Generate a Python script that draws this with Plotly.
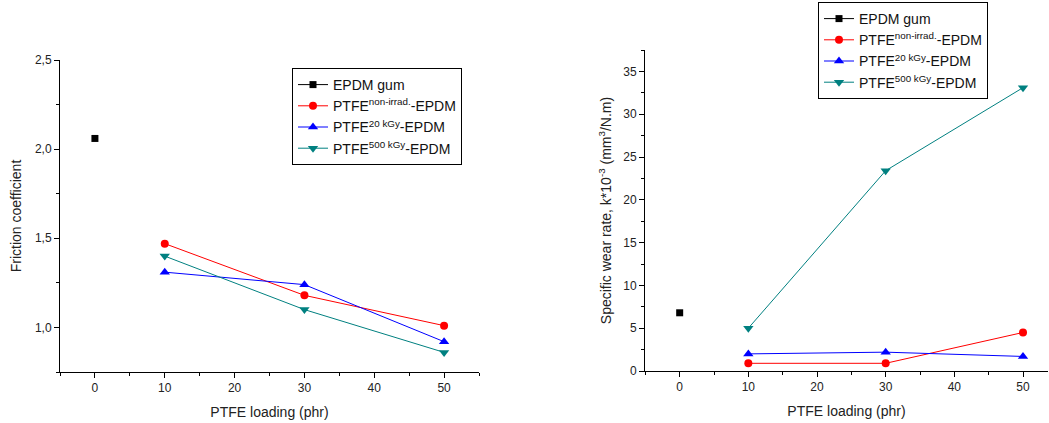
import plotly.graph_objects as go

# ---- data ----
loading_gum = [0]
loading = [10, 30, 50]

series_names = [
    "EPDM gum",
    "PTFE<sup>non-irrad.</sup>-EPDM",
    "PTFE<sup>20 kGy</sup>-EPDM",
    "PTFE<sup>500 kGy</sup>-EPDM",
]

friction_gum = [2.06]
friction_nonirrad = [1.47, 1.18, 1.01]
friction_20kgy = [1.31, 1.24, 0.92]
friction_500kgy = [1.40, 1.10, 0.86]

wear_gum = [6.8]
wear_nonirrad = [0.9, 0.9, 4.5]
wear_20kgy = [2.0, 2.2, 1.7]
wear_500kgy = [5.0, 23.4, 33.1]

colors = ["#000000", "#FF0000", "#0000FF", "#008080"]
symbols = ["square", "circle", "triangle-up", "triangle-down"]
msizes = [7, 8, 9, 9]

W, H = 1049, 423
FONT = "Liberation Sans, Arial, sans-serif"

fig = go.Figure()

def add_panel(ys, xaxis, yaxis, legend):
    xs = [loading_gum, loading, loading, loading]
    for i in range(4):
        fig.add_trace(go.Scatter(
            x=xs[i], y=ys[i], name=series_names[i],
            mode="lines+markers",
            line=dict(color=colors[i], width=1),
            marker=dict(symbol=symbols[i], size=msizes[i], color=colors[i]),
            xaxis=xaxis, yaxis=yaxis, legend=legend,
        ))

add_panel([friction_gum, friction_nonirrad, friction_20kgy, friction_500kgy], "x", "y", "legend")
add_panel([wear_gum, wear_nonirrad, wear_20kgy, wear_500kgy], "x2", "y2", "legend2")

def px_x(p):
    return p / W

def px_y(p):
    return 1 - p / H

axis_common = dict(
    showline=True, linecolor="black", linewidth=1, mirror=False,
    showgrid=False, zeroline=False, automargin=False,
    ticks="outside", ticklen=5, tickwidth=1, tickcolor="black",
    tickfont=dict(family=FONT, size=12, color="#222"),
)

minor_x = dict(tickvals=[-5, 5, 15, 25, 35, 45, 55], ticks="outside", ticklen=3, tickcolor="black")
title_font = dict(family=FONT, size=14, color="#222")

fig.update_layout(
    width=W, height=H,
    margin=dict(l=0, r=0, t=0, b=0, autoexpand=False),
    paper_bgcolor="white", plot_bgcolor="white",
    separators=",.",
    font=dict(family=FONT, color="#222"),
    xaxis=dict(axis_common, domain=[px_x(60), px_x(479)], anchor="y",
               range=[-5, 55], tickvals=[0, 10, 20, 30, 40, 50], minor=minor_x,
               title=dict(text="PTFE loading (phr)", font=title_font, standoff=12)),
    yaxis=dict(axis_common, domain=[px_y(372), px_y(60)], anchor="x",
               range=[0.75, 2.5], tickvals=[1.0, 1.5, 2.0, 2.5], tickformat=".1f",
               minor=dict(tickvals=[0.75, 1.25, 1.75, 2.25], ticks="outside", ticklen=3, tickcolor="black"),
               title=dict(text="Friction coefficient", font=title_font, standoff=10)),
    xaxis2=dict(axis_common, domain=[px_x(645), px_x(1048)], anchor="y2",
                range=[-5.05, 53.64], tickvals=[0, 10, 20, 30, 40, 50], minor=minor_x,
                title=dict(text="PTFE loading (phr)", font=title_font, standoff=12)),
    yaxis2=dict(axis_common, domain=[px_y(371), px_y(50)], anchor="x2",
                range=[0, 37.5], tickvals=[0, 5, 10, 15, 20, 25, 30, 35],
                minor=dict(tickvals=[2.5, 7.5, 12.5, 17.5, 22.5, 27.5, 32.5, 37.5],
                           ticks="outside", ticklen=3, tickcolor="black"),
                title=dict(text="Specific wear rate, k*10<sup>-3</sup> (mm<sup>3</sup>/N.m)",
                           font=title_font, standoff=8)),
    legend=dict(x=px_x(292), y=px_y(68), xanchor="left", yanchor="top",
                bordercolor="black", borderwidth=1, bgcolor="white",
                font=dict(family=FONT, size=14, color="#111"),
                tracegroupgap=0, itemwidth=30),
    legend2=dict(x=px_x(818), y=px_y(2), xanchor="left", yanchor="top",
                 bordercolor="black", borderwidth=1, bgcolor="white",
                 font=dict(family=FONT, size=14, color="#111"),
                 tracegroupgap=0, itemwidth=30),
)

fig.write_html("out.html", config={"displayModeBar": False},
               post_script="document.body.style.margin='0';document.body.style.overflow='hidden';")
